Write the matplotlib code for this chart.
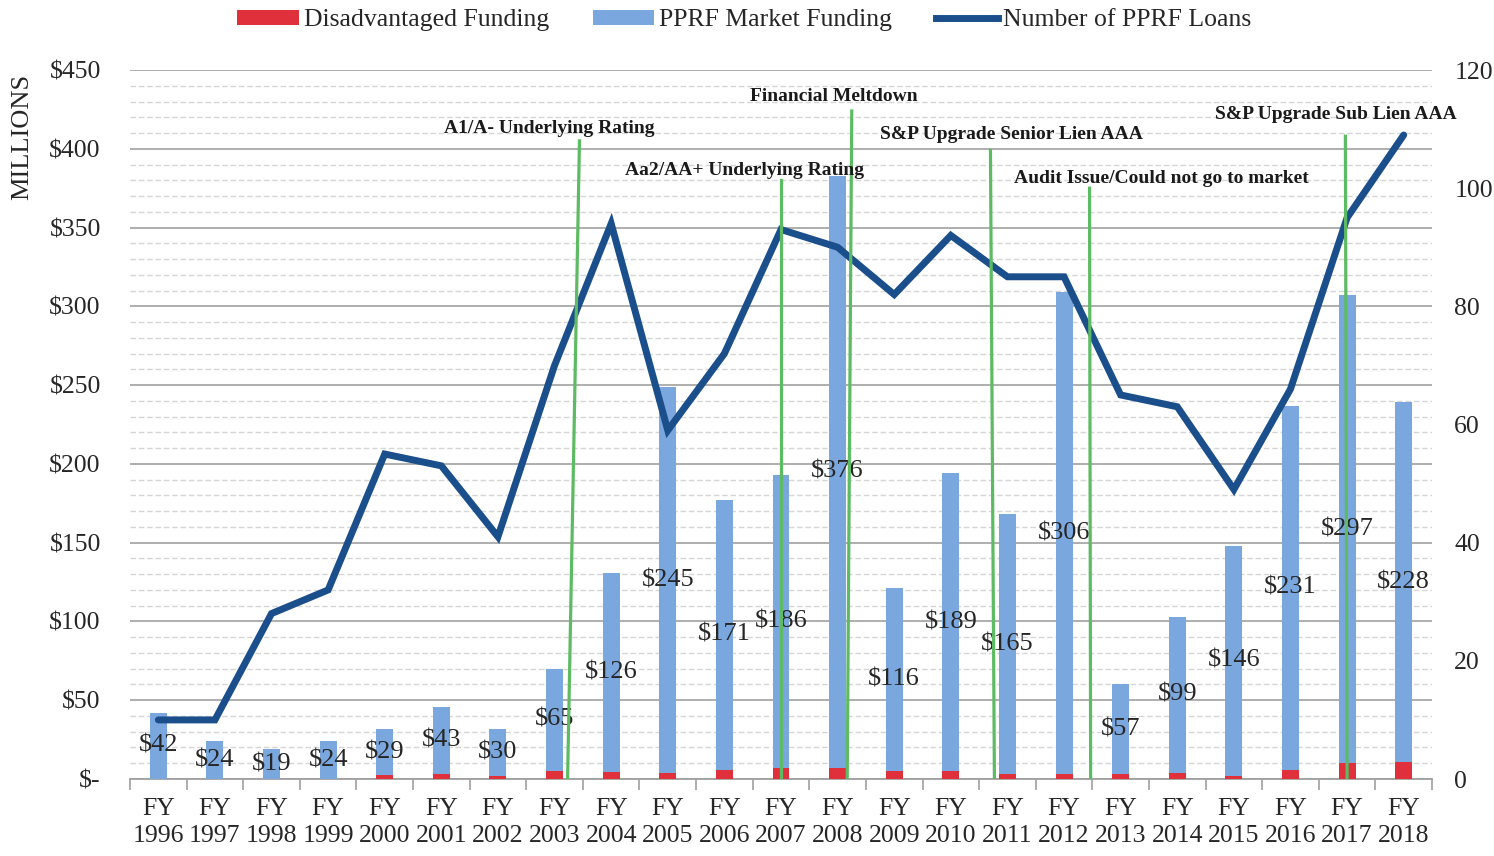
import matplotlib
matplotlib.use("Agg")
import matplotlib.pyplot as plt
import numpy as np
from matplotlib.patches import Patch
from matplotlib.lines import Line2D
from matplotlib.ticker import MultipleLocator, FuncFormatter

years = list(range(1996, 2019))
categories = [f"FY\n{y}" for y in years]
disadvantaged = [0, 0, 0, 0, 2.5, 3, 2, 5, 4.5, 3.5, 6, 7, 7, 5, 5, 3, 3, 3, 4, 2, 6, 10, 11]
market = [42, 24, 19, 24, 29, 43, 30, 65, 126, 245, 171, 186, 376, 116, 189, 165, 306, 57, 99, 146, 231, 297, 228]
loans = [10, 10, 28, 32, 55, 53, 41, 70, 94, 59, 72, 93, 90, 82, 92, 85, 85, 65, 63, 49, 66, 95, 109]

annot_text = ["A1/A- Underlying Rating", "Aa2/AA+ Underlying Rating", "Financial Meltdown",
              "S&P Upgrade Senior Lien AAA", "Audit Issue/Could not go to market", "S&P Upgrade Sub Lien AAA"]
annot_x_bottom = [7.23, 11.0, 12.17, 14.77, 16.47, 21.0]
annot_x_top = [7.44, 11.0, 12.25, 14.70, 16.45, 20.97]
annot_top = [405, 380, 424, 399, 375, 408]
annot_text_x = [6.91, 10.35, 11.93, 15.07, 17.72, 20.8]
annot_text_y = [413, 386, 433, 409, 381, 422]

SERIF = ["Liberation Serif", "DejaVu Serif"]
plt.rcParams['font.family'] = SERIF

RED = "#E0303C"
BLUE = "#7AA7DD"
NAVY = "#1B4F8C"
GREEN = "#5DBB63"
TXT = "#262626"

fig = plt.figure(figsize=(14.94, 8.56), dpi=100)
ax = fig.add_axes([130/1494, 1-779/856, (1432-130)/1494, (779-70)/856])
x = np.arange(len(years))
w = 0.3
ax.bar(x, disadvantaged, width=w, color=RED, zorder=3)
ax.bar(x, market, width=w, bottom=disadvantaged, color=BLUE, zorder=3)

ax.set_xlim(-0.5, len(years) - 0.5)
ax.set_ylim(0, 450)
ax.yaxis.set_major_locator(MultipleLocator(50))
ax.yaxis.set_minor_locator(MultipleLocator(10))
ax.yaxis.set_major_formatter(FuncFormatter(lambda v, p: "$-" if v == 0 else f"${int(v)}"))
ax.grid(axis='y', which='major', color='#A8A8A8', lw=1.3, zorder=0)
ax.grid(axis='y', which='minor', color='#D6D6D6', lw=1.0, ls=(0, (4, 2)), zorder=0)
for s in ['top', 'right', 'left']:
    ax.spines[s].set_visible(False)
ax.spines['bottom'].set_color('#A0A0A0')
ax.spines['bottom'].set_linewidth(1.3)
ax.set_xticks(x)
ax.set_xticklabels(categories, fontsize=18.5, linespacing=1.25, color=TXT)
ax.tick_params(axis='x', length=0, pad=14)
ax.set_xticks(np.arange(-0.5, len(years), 1), minor=True)
ax.tick_params(axis='x', which='minor', length=8, color='#A0A0A0', width=1.2)
ax.tick_params(axis='y', which='both', length=0, labelsize=18.5, pad=21, labelcolor=TXT)

for xi, d, m in zip(x, disadvantaged, market):
    ax.text(xi, d + m / 2, f"${m}", ha='center', va='center', fontsize=19, color=TXT, zorder=6)

ax2 = ax.twinx()
ax2.set_ylim(0, 120)
ax2.yaxis.set_major_locator(MultipleLocator(20))
ax2.tick_params(axis='y', length=0, labelsize=18.5, pad=16, labelcolor=TXT)
for s in ['top', 'right', 'left', 'bottom']:
    ax2.spines[s].set_visible(False)
ax2.plot(x, loans, color=NAVY, lw=5, solid_capstyle='round', solid_joinstyle='miter', zorder=4)

for xb, xt, top, t, tx, ty in zip(annot_x_bottom, annot_x_top, annot_top, annot_text, annot_text_x, annot_text_y):
    ax2.plot([xb, xt], [0, top], color=GREEN, lw=2.3, transform=ax.transData, zorder=5)
    ax2.text(tx, ty, t, ha='center', va='center', fontsize=14, fontweight='bold',
             color='#1a1a1a', transform=ax.transData, zorder=7)

fig.text(22/1494, 1-137/856, "MILLIONS", rotation=90, ha='center', va='center', fontsize=19, color=TXT)

handles = [Patch(facecolor=RED, label="Disadvantaged Funding"),
           Patch(facecolor=BLUE, label="PPRF Market Funding"),
           Line2D([0], [0], color=NAVY, lw=5, label="Number of PPRF Loans")]
fig.legend(handles=handles, loc='upper center', bbox_to_anchor=(0.498, 1.016), ncol=3, frameon=False,
           fontsize=18.5, handlelength=2.4, handleheight=0.55, columnspacing=1.7, handletextpad=0.2,
           labelcolor=TXT)

fig.savefig("out.png", dpi=100)
